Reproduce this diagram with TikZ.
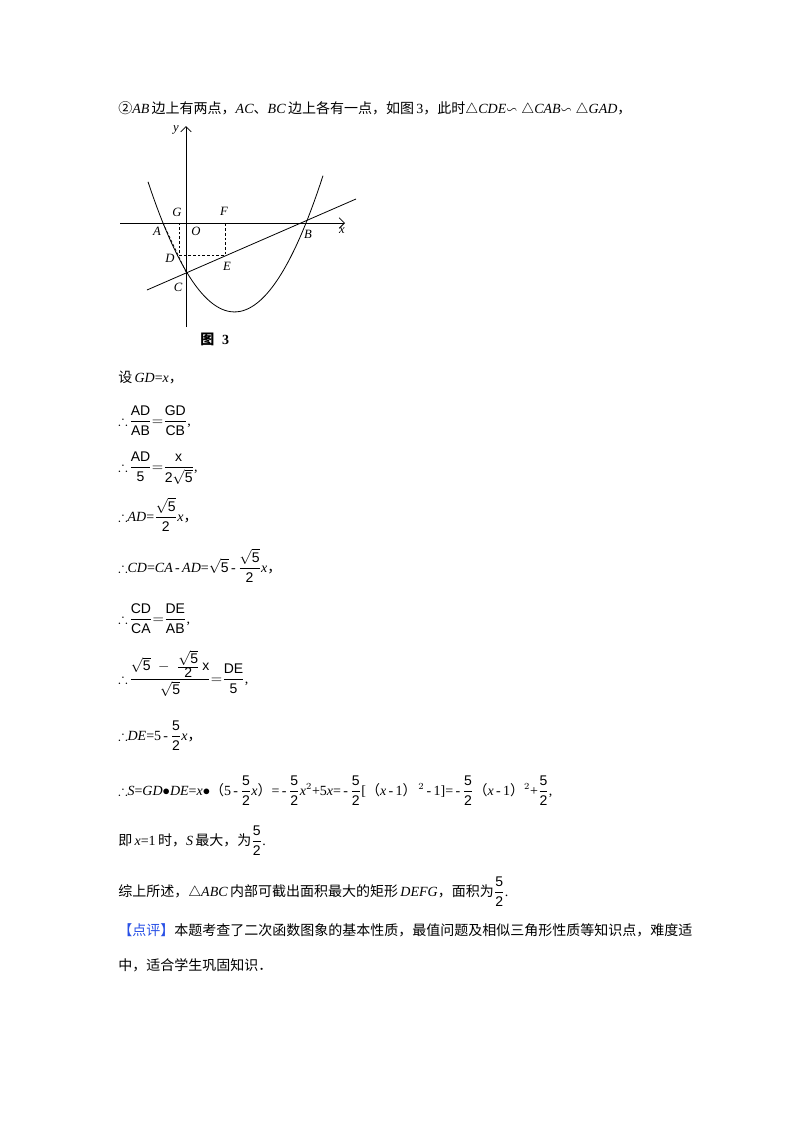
\documentclass[tikz,border=0pt]{standalone}
\usepackage{amsmath,amssymb}
\usepackage{fontspec}
\setmainfont{Liberation Serif}
\setsansfont{Liberation Sans}
\newfontfamily\cjk{Noto Sans CJK SC}
\newcommand\zh[1]{{\cjk #1}}
\newcommand\sfr[2]{\dfrac{\mbox{\sffamily #1}}{\mbox{\sffamily #2}}}
\newcommand\ff{\dfrac{\mbox{\sffamily 5}}{\mbox{\sffamily 2}}}
\usetikzlibrary{arrows.meta}
\begin{document}
\begin{tikzpicture}[x=0.75pt,y=-0.75pt,
  txt/.style={anchor=base west,inner sep=0pt,font=\fontsize{10.5}{12}\selectfont},
  lbl/.style={inner sep=0pt,font=\fontsize{9.5}{11}\selectfont\itshape},
  ax/.style={line width=0.6pt},
  dsh/.style={dashed,line width=0.5pt,dash pattern=on 2pt off 1.5pt}]
\useasboundingbox[fill=white] (0,0) rectangle (800,1132);
% header
\node[txt] (t1) at (118,113) {\zh{②}\textit{AB}\,\zh{边上有两点，}\textit{AC}\zh{、}\textit{BC}\,\zh{边上各有一点，如图}\,3\zh{，此时}$\triangle$\textit{CDE}$\backsim\triangle$\textit{CAB}$\backsim\triangle$\textit{GAD}\zh{，}};
% figure
\coordinate (xl) at (120,223); \coordinate (xr) at (345,223);
\coordinate (yb) at (186,327); \coordinate (yt) at (186,126);
\draw[ax,-{Straight Barb[length=4pt]}] (xl) -- (xr);
\draw[ax,-{Straight Barb[length=4pt]}] (yb) -- (yt);
\draw[line width=0.6pt,domain=148:323,samples=60] plot (\x,{223-0.0174*(\x-163)*(\x-306)});
\coordinate (L1) at (147,290); \coordinate (L2) at (356,199);
\draw[line width=0.6pt] (L1) -- (L2);
\coordinate (G) at (179,223); \coordinate (F) at (225,223);
\coordinate (D) at (179,255); \coordinate (E) at (225,255);
\coordinate (A) at (163,223); \coordinate (C) at (186,272);
\draw[dsh] (G) -- (F) -- (E) -- (D) -- cycle;
\draw[dsh] (A) -- (C);
\node[lbl] (lG) at (177,212) {G};
\node[lbl] (lF) at (224,211) {F};
\node[lbl] (lA) at (157,231) {A};
\node[lbl] (lO) at (196,231) {O};
\node[lbl] (lB) at (308,234) {B};
\node[lbl] (lx) at (342,231) {x};
\node[lbl] (ly) at (176,130) {y};
\node[lbl] (lD) at (170,258) {D};
\node[lbl] (lE) at (227,266) {E};
\node[lbl] (lC) at (178,287) {C};
\node[txt,font=\fontsize{10.5}{12}\selectfont\bfseries] (cap) at (200,344) {\zh{\textbf{图}}\;\;3};
% text lines
\node[txt] (l1) at (118,382) {\zh{设}\,\textit{GD}=\textit{x}\zh{，}};
\node[txt] (l2) at (118,425) {$\therefore\!\sfr{AD}{AB}{=}\sfr{GD}{CB}$,};
\node[txt] (l3) at (118,471) {$\therefore\!\sfr{AD}{5}{=}\dfrac{\mbox{\sffamily x}}{\mbox{\sffamily 2}\sqrt{\mbox{\sffamily 5}}}$,};
\node[txt] (l4) at (118,521) {$\therefore$\textit{AD}=$\dfrac{\sqrt{\mbox{\sffamily 5}}}{\mbox{\sffamily 2}}$\textit{x}\zh{，}};
\node[txt] (l5) at (118,572) {$\therefore$\textit{CD}=\textit{CA}\,-\,\textit{AD}=$\sqrt{\mbox{\sffamily 5}}$\,-\,$\dfrac{\sqrt{\mbox{\sffamily 5}}}{\mbox{\sffamily 2}}$\textit{x}\zh{，}};
\node[txt] (l6) at (118,623) {$\therefore\!\sfr{CD}{CA}{=}\sfr{DE}{AB}$,};
\node[txt] (l7) at (118,683) {$\therefore\!\dfrac{\sqrt{\mbox{\sffamily 5}}\;-\;\frac{\sqrt{\mbox{\sffamily 5}}}{\mbox{\sffamily 2}}\,\mbox{\sffamily x}}{\sqrt{\mbox{\sffamily 5}}}{=}\sfr{DE}{5}$,};
\node[txt] (l8) at (118,740) {$\therefore$\textit{DE}=5\,-\,$\ff$\textit{x}\zh{，}};
\node[txt] (l9) at (118,795) {$\therefore$\textit{S}=\textit{GD}$\bullet$\textit{DE}=\textit{x}$\bullet$\zh{（}5\,-\,$\ff$\textit{x}\zh{）}=\,-\,$\ff$\textit{x}$^2$+5\textit{x}=\,-\,$\ff$[\zh{（}\textit{x}\,-\,1\zh{）}$^{\,2}$\,-\,1]=\,-\,$\ff$\zh{（}\textit{x}\,-\,1\zh{）}$^{2}$+$\ff$,};
\node[txt] (l10) at (118,845) {\zh{即}\,\textit{x}=1\,\zh{时，}\textit{S}\,\zh{最大，为}$\ff$.};
\node[txt] (l11) at (118,896) {\zh{综上所述，}$\triangle$\textit{ABC}\,\zh{内部可截出面积最大的矩形}\,\textit{DEFG}\zh{，面积为}$\ff$.};
\node[txt] (l12) at (118,935) {\zh{\textcolor[RGB]{40,80,230}{【点评】}本题考查了二次函数图象的基本性质，最值问题及相似三角形性质等知识点，难度适}};
\node[txt] (l13) at (118,970) {\zh{中，适合学生巩固知识．}};
\end{tikzpicture}
\end{document}
